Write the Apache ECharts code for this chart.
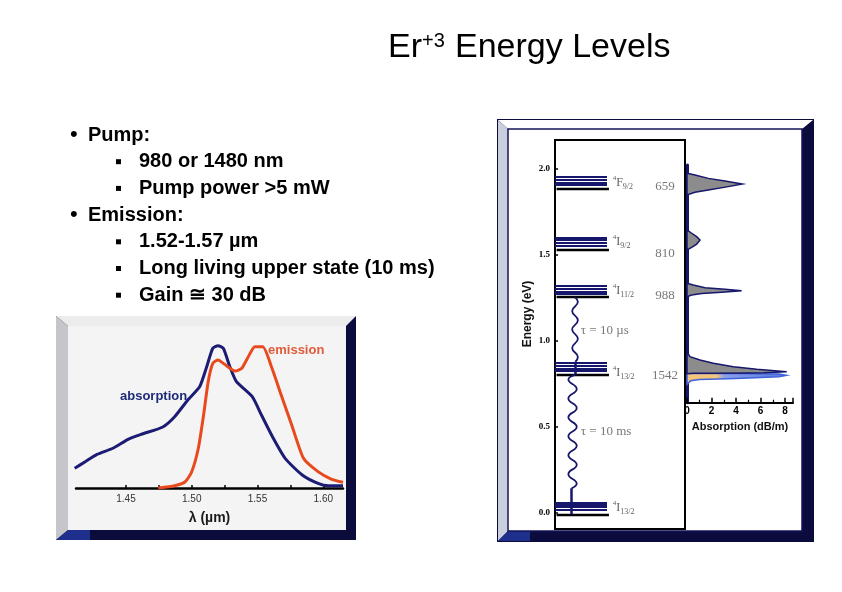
<!DOCTYPE html>
<html>
<head>
<meta charset="utf-8">
<script src="https://cdn.jsdelivr.net/npm/echarts@6/dist/echarts.min.js"></script>
<style>html,body{margin:0;padding:0;background:#fff}#c{width:842px;height:592px}</style>
</head>
<body>
<div id="c"></div>
<script>
// ---------------- DATA ----------------
// Left chart: wavelength (µm) vs relative cross-section (arb. units)
const absorptionCurve = [[1.411,13.9],[1.419,18.5],[1.428,23.7],[1.440,28.0],[1.452,34.5],[1.463,38.2],[1.478,43.0],[1.487,50.2],[1.497,62.0],[1.506,71.3],[1.511,84.3],[1.516,98.4],[1.520,100.2],[1.524,98.4],[1.529,85.4],[1.534,74.9],[1.546,64.3],[1.553,51.4],[1.562,35.0],[1.571,20.9],[1.584,9.2],[1.596,3.3],[1.604,1.6],[1.615,1.6]];
const emissionCurve = [[1.4745,0],[1.487,1.6],[1.495,4.4],[1.500,11.5],[1.505,28.0],[1.509,51.4],[1.5125,74.9],[1.516,87.8],[1.520,90.1],[1.525,87.1],[1.533,82.4],[1.538,84.3],[1.543,92.5],[1.548,99.5],[1.554,99.5],[1.561,84.3],[1.568,65.5],[1.576,44.4],[1.585,20.9],[1.596,11.5],[1.606,6.3],[1.615,4.0]];
const lambdaLabels = [1.45, 1.50, 1.55, 1.60];
const lambdaTickMarks = [1.45, 1.475, 1.50, 1.525, 1.55, 1.575, 1.60];

// Right chart: energy levels (eV)
const energyTicks = [0, 0.5, 1.0, 1.5, 2.0];
const sublevelEnergies = [
  [1.952, 1.933, 1.917, 1.903],
  [1.597, 1.584, 1.568, 1.551],
  [1.318, 1.303, 1.283, 1.270],
  [0.871, 0.851, 0.838, 0.824],
  [0.059, 0.043, 0.030, 0.014]
];
const lowestSublevelEnergies = [1.880, 1.526, 1.251, 0.799, -0.011];
const levelTerms = [['F','9/2'],['I','9/2'],['I','11/2'],['I','13/2'],['I','13/2']];
const levelLabelEnergies = [1.915, 1.572, 1.287, 0.810, 0.026];
const peakWavelengthLabels = ['659', '810', '988', '1542'];
const peakLabelEnergies = [1.893, 1.503, 1.258, 0.793];
const lifetimeLabels = ['\u03c4 = 10 \u00b5s', '\u03c4 = 10 ms'];
const lifetimeLabelEnergies = [1.060, 0.468];

// decay wiggles (x in schematic units, energy in eV)
const waveMicro = [[15.4,1.251],[17.6,1.224],[13.2,1.171],[17.6,1.117],[13.2,1.063],[17.6,1.010],[13.2,0.956],[17.6,0.903],[15.7,0.876]];
const waveMilli = [[15.4,0.800],[10.3,0.7725],[16.7,0.7175],[10.3,0.6625],[16.7,0.6075],[10.3,0.5525],[16.7,0.4975],[10.3,0.4425],[16.7,0.3875],[10.3,0.3325],[16.7,0.2775],[10.3,0.2225],[16.7,0.1675],[12.8,0.140]];
const decayLinks = [[[15.7,0.876],[15.7,0.800]], [[12.8,0.140],[12.8,-0.011]]];

// absorption spectrum (dB/m) vs energy (eV)
const absorptionTicks = [0, 2, 4, 6, 8];
const peak659 = [[0,1.972],[0.65,1.962],[1.74,1.942],[3.10,1.927],[4.52,1.909],[3.37,1.894],[1.74,1.874],[0.65,1.861],[0,1.846]];
const peak810 = [[0,1.642],[0.38,1.623],[0.79,1.603],[1.06,1.584],[0.79,1.560],[0.38,1.541],[0,1.526]];
const peak988 = [[0,1.332],[0.51,1.322],[1.47,1.306],[3.10,1.297],[4.46,1.289],[2.83,1.280],[1.20,1.272],[0.38,1.264],[0,1.254]];
const peak1542Abs = [[0,0.933],[0.24,0.905],[1.06,0.886],[2.15,0.867],[3.78,0.847],[5.69,0.832],[8.14,0.818],[6.26,0.812],[4.90,0.810],[2.15,0.809],[0.51,0.809],[0,0.806]];
const peak1542Emi = [[0,0.808],[4.0,0.807],[7.5,0.804],[8.1,0.797],[7.5,0.789],[4.0,0.779],[1.0,0.773],[0.3,0.765],[0,0.745]];

// bullet text
const bulletTexts = ['Pump:', '980 or 1480 nm', 'Pump power >5 mW', 'Emission:', '1.52-1.57 \u00b5m', 'Long living upper state (10 ms)', 'Gain \u2245 30 dB'];
const bulletLevels = [1, 2, 2, 1, 2, 2, 2];

// ---------------- CHART ----------------
const SANS = '"Liberation Sans", Arial, sans-serif';
const SERIF = '"Liberation Serif", "Times New Roman", serif';
const NAVY = '#16166c';

const chart = echarts.init(document.getElementById('c'), null, {renderer: 'canvas'});

const graphics = [];
// left frame
graphics.push({type:'rect', z:-10, shape:{x:56,y:316,width:300,height:224}, style:{fill:'#0c0c3c'}});
graphics.push({type:'polygon', z:-9, shape:{points:[[56,316],[356,316],[346,326],[68,326]]}, style:{fill:'#ececec'}});
graphics.push({type:'polygon', z:-9, shape:{points:[[56,316],[68,326],[68,530],[56,540]]}, style:{fill:'#c6c6ca'}});
graphics.push({type:'polygon', z:-9, shape:{points:[[56,540],[68,530],[90,530],[90,540]]}, style:{fill:'#1f2f8c'}});
graphics.push({type:'rect', z:-8, shape:{x:68,y:326,width:278,height:204}, style:{fill:'#f4f4f4'}});
// right frame
graphics.push({type:'rect', z:-10, shape:{x:497,y:119,width:317,height:423}, style:{fill:'#0b0b3d'}});
graphics.push({type:'polygon', z:-9, shape:{points:[[498,120],[813,120],[802,129],[508,129]]}, style:{fill:'#ffffff'}});
graphics.push({type:'polygon', z:-9, shape:{points:[[498,120],[508,129],[508,531],[498,541]]}, style:{fill:'#c9cfdc'}});
graphics.push({type:'polygon', z:-9, shape:{points:[[498,541],[508,531],[530,531],[530,541]]}, style:{fill:'#1f2f8c'}});
graphics.push({type:'rect', z:-8, shape:{x:508,y:129,width:294,height:402}, style:{fill:'#ffffff', stroke:'#14145a', lineWidth:1.5}});

// title
graphics.push({type:'text', z:100, x:388, y:48, style:{text:'Er', fontSize:34, fontFamily:SANS, fill:'#000', align:'left', verticalAlign:'middle'}});
graphics.push({type:'text', z:100, x:422, y:41, style:{text:'+3', fontSize:20, fontFamily:SANS, fill:'#000', align:'left', verticalAlign:'middle'}});
graphics.push({type:'text', z:100, x:455, y:48, style:{text:'Energy Levels', fontSize:34, fontFamily:SANS, fill:'#000', align:'left', verticalAlign:'middle'}});

// bullets
bulletTexts.forEach((t, i) => {
  const y = 135 + i * 26.7;
  const lvl = bulletLevels[i];
  if (lvl === 1) {
    graphics.push({type:'text', z:100, x:70, y:y, style:{text:'\u2022', fontSize:22, fontFamily:SANS, fill:'#000', align:'left', verticalAlign:'middle'}});
  } else {
    graphics.push({type:'rect', z:100, shape:{x:116, y:y - 2.5, width:5, height:5}, style:{fill:'#000'}});
  }
  graphics.push({type:'text', z:100, x: lvl === 1 ? 88 : 139, y: y, style:{text:t, fontSize:20, fontWeight:'bold', fontFamily:SANS, fill:'#000', align:'left', verticalAlign:'middle'}});
});

// left chart curve labels
graphics.push({type:'text', z:100, x:120, y:396, style:{text:'absorption', fontSize:13, fontWeight:'bold', fontFamily:SANS, fill:'#1e2a78', align:'left', verticalAlign:'middle'}});
graphics.push({type:'text', z:100, x:268, y:350, style:{text:'emission', fontSize:13, fontWeight:'bold', fontFamily:SANS, fill:'#e05a3a', align:'left', verticalAlign:'middle'}});

// energy axis title
graphics.push({type:'text', z:100, x:528, y:314, rotation:Math.PI/2, style:{text:'Energy (eV)', fontSize:12, fontWeight:'bold', fontFamily:SANS, fill:'#111', align:'center', verticalAlign:'middle'}});

function polygonSeries(points, fill, stroke, lw) {
  return {
    type:'custom', xAxisIndex:2, yAxisIndex:2, data: points, silent:true, z:3,
    encode:{x:0, y:1},
    renderItem: function(params, api) {
      if (params.dataIndexInside !== 0) return null;
      const pts = points.map(p => api.coord(p));
      return {type:'polygon', shape:{points:pts}, style:{fill:fill, stroke:stroke, lineWidth:lw}};
    }
  };
}

const emiFill = new echarts.graphic.LinearGradient(0, 0, 1, 0, [
  {offset:0, color:'#f3c47c'}, {offset:0.3, color:'#f3c47c'}, {offset:0.38, color:'#8aa0ea'}, {offset:1, color:'#5a78de'}
]);

const option = {
  backgroundColor:'#ffffff',
  animation:false,
  grid:[
    {left:76, top:330, width:267, height:158, outerBoundsMode:'none'},
    {left:555, top:140, width:130, height:389, show:true, borderColor:'#000', borderWidth:2, backgroundColor:'transparent', outerBoundsMode:'none'},
    {left:687, top:165, width:106, height:237.7, outerBoundsMode:'none'}
  ],
  xAxis:[
    {type:'value', gridIndex:0, min:1.412, max:1.615,
     axisLine:{show:true, lineStyle:{color:'#000', width:2.5}},
     axisTick:{show:true, inside:true, length:3, customValues:lambdaTickMarks, lineStyle:{color:'#000', width:1.5}},
     axisLabel:{show:true, customValues:lambdaLabels, formatter:v => v.toFixed(2), fontSize:10, fontFamily:SANS, color:'#333', margin:6},
     splitLine:{show:false},
     name:'\u03bb (\u00b5m)', nameLocation:'middle', nameGap:23,
     nameTextStyle:{fontSize:14, fontWeight:'bold', fontFamily:SANS, color:'#1a1a1a'}},
    {type:'value', gridIndex:1, min:0, max:100, show:false},
    {type:'value', gridIndex:2, min:0, max:8.653, interval:2,
     axisLine:{show:true, lineStyle:{color:'#000', width:2}},
     axisTick:{show:true, inside:true, length:5, lineStyle:{color:'#000', width:1.5}},
     minorTick:{show:true, splitNumber:2, length:3, lineStyle:{color:'#000', width:1.2}},
     axisLabel:{show:true, customValues:absorptionTicks, fontSize:10, fontWeight:'bold', fontFamily:SANS, color:'#000', margin:4},
     splitLine:{show:false}, minorSplitLine:{show:false},
     name:'Absorption (dB/m)', nameLocation:'middle', nameGap:19,
     nameTextStyle:{fontSize:11, fontWeight:'bold', fontFamily:SANS, color:'#111'}}
  ],
  yAxis:[
    {type:'value', gridIndex:0, min:0, max:111.3, show:false},
    {type:'value', gridIndex:1, min:-0.0965, max:2.1651,
     axisLine:{show:false},
     axisTick:{show:true, inside:true, length:3, customValues:energyTicks, lineStyle:{color:'#000', width:1.5}},
     axisLabel:{show:true, customValues:energyTicks, formatter:v => v.toFixed(1), fontSize:9, fontWeight:'bold', fontFamily:SERIF, color:'#000', margin:5},
     splitLine:{show:false}},
    {type:'value', gridIndex:2, min:0.6378, max:2.0198,
     axisLine:{show:true, lineStyle:{color:NAVY, width:3}},
     axisTick:{show:false}, axisLabel:{show:false}, splitLine:{show:false}}
  ],
  graphic:{elements:graphics},
  series:[
    {type:'line', xAxisIndex:0, yAxisIndex:0, data:absorptionCurve, symbol:'none', smooth:0.2, lineStyle:{color:'#1c1c74', width:3}, z:3},
    {type:'line', xAxisIndex:0, yAxisIndex:0, data:emissionCurve, symbol:'none', smooth:0.2, lineStyle:{color:'#e84a1e', width:3}, z:4},
    // energy level lines
    {type:'lines', coordinateSystem:'cartesian2d', xAxisIndex:1, yAxisIndex:1, silent:true, z:3,
     data: sublevelEnergies.flat().map(E => ({coords:[[0,E],[40,E]]})),
     lineStyle:{color:NAVY, width:1.9, opacity:1}},
    {type:'lines', coordinateSystem:'cartesian2d', xAxisIndex:1, yAxisIndex:1, silent:true, z:3,
     data: lowestSublevelEnergies.map(E => ({coords:[[1.2,E],[41.5,E]]})),
     lineStyle:{color:'#000', width:2.3, opacity:1}},
    // decays
    {type:'line', xAxisIndex:1, yAxisIndex:1, data:waveMicro, symbol:'none', smooth:true, lineStyle:{color:NAVY, width:1.8}, z:4},
    {type:'line', xAxisIndex:1, yAxisIndex:1, data:waveMilli, symbol:'none', smooth:true, lineStyle:{color:NAVY, width:1.8}, z:4},
    {type:'lines', coordinateSystem:'cartesian2d', xAxisIndex:1, yAxisIndex:1, silent:true, z:4,
     data: decayLinks.map(c => ({coords:c})),
     lineStyle:{color:NAVY, width:2.5, opacity:1}},
    // level labels
    {type:'scatter', xAxisIndex:1, yAxisIndex:1, symbolSize:1, itemStyle:{color:'transparent'}, silent:true, z:5,
     data: levelLabelEnergies.map(E => [44, E]),
     label:{show:true, position:'right', distance:0,
       formatter: p => '{s|4}{m|' + levelTerms[p.dataIndex][0] + '}{b|' + levelTerms[p.dataIndex][1] + '}',
       rich:{
         s:{fontSize:7, fontFamily:SERIF, color:'#333', verticalAlign:'top', lineHeight:16},
         m:{fontSize:12, fontFamily:SERIF, color:'#333', lineHeight:16},
         b:{fontSize:8, fontFamily:SERIF, color:'#333', verticalAlign:'bottom', lineHeight:16}
       }}},
    {type:'scatter', xAxisIndex:1, yAxisIndex:1, symbolSize:1, itemStyle:{color:'transparent'}, silent:true, z:5,
     data: peakLabelEnergies.map(E => [84.6, E]),
     label:{show:true, position:'inside', formatter: p => peakWavelengthLabels[p.dataIndex], fontSize:13, fontFamily:SERIF, color:'#555'}},
    {type:'scatter', xAxisIndex:1, yAxisIndex:1, symbolSize:1, itemStyle:{color:'transparent'}, silent:true, z:5,
     data: lifetimeLabelEnergies.map(E => [19.5, E]),
     label:{show:true, position:'right', distance:0, formatter: p => lifetimeLabels[p.dataIndex], fontSize:13, fontFamily:SERIF,
       color:'#555'}},
    // absorption spectrum
    polygonSeries(peak659, '#8c8c8c', NAVY, 1.5),
    polygonSeries(peak810, '#8c8c8c', NAVY, 1.5),
    polygonSeries(peak988, '#8c8c8c', NAVY, 1.5),
    polygonSeries(peak1542Emi, emiFill, '#3f63d8', 1.5),
    polygonSeries(peak1542Abs, '#8c8c8c', NAVY, 1.5)
  ]
};
chart.setOption(option);
</script>
</body>
</html>
